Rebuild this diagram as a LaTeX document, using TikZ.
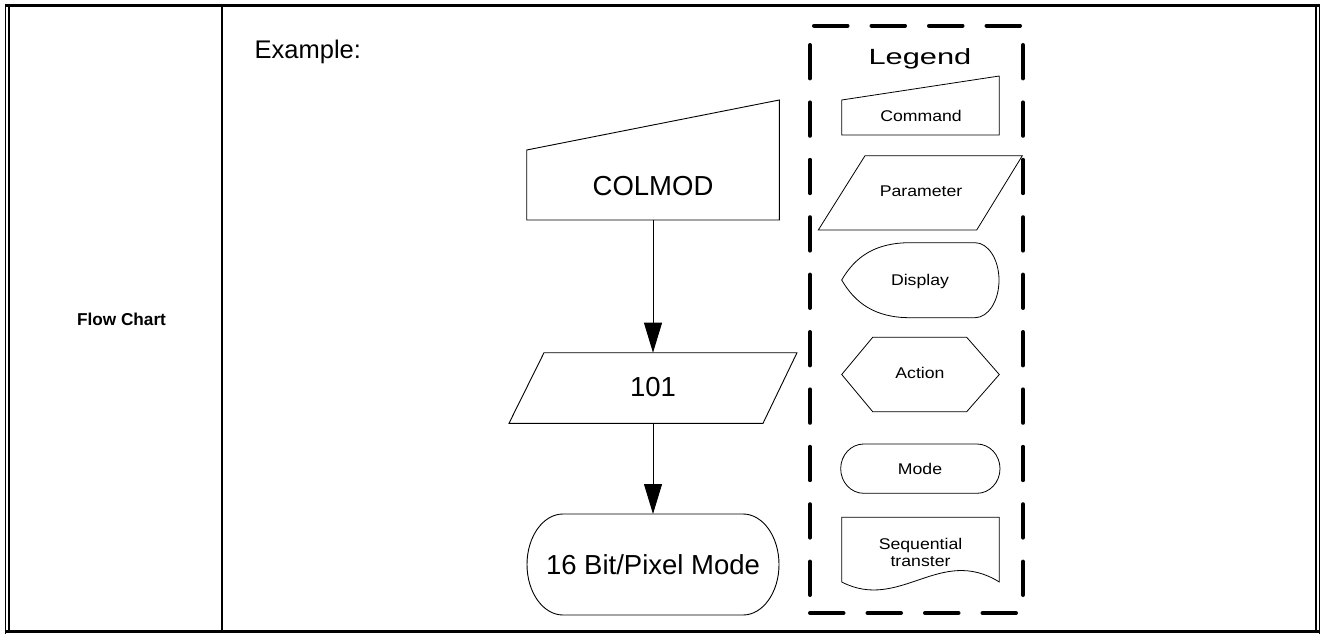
\documentclass[tikz,border=0pt]{standalone}
\usepackage{fontspec}
\setmainfont{Liberation Sans}
\newfontfamily\legendfont[FakeStretch=1.14]{Liberation Sans}
\newfontfamily\legendtitlefont[FakeStretch=1.4]{Liberation Sans}
\usetikzlibrary{arrows.meta}
\begin{document}
\begin{tikzpicture}[x=1pt,y=-1pt,
  shp/.style={draw,line width=0.9pt,line join=miter},
  lshp/.style={draw,line width=0.8pt,line join=miter},
  conn/.style={draw,line width=0.9pt,-{Triangle[length=30pt,width=18pt]}},
  maintext/.style={anchor=base,inner sep=0pt,font=\fontsize{27.5}{32}\selectfont},
  legtext/.style={anchor=base,inner sep=0pt,align=center,font=\legendfont\fontsize{15.5}{17.7}\selectfont},
  legdash/.style={line width=4pt,line cap=round,dash pattern=on 33.4pt off 24pt},
  legdashh/.style={line width=4pt,line cap=round,dash pattern=on 33.5pt off 24pt}]
\useasboundingbox (0,0) rectangle (1322,634);
% table frame
\draw[line width=3pt] (4.8,5.5) -- (1320.3,5.5);
\draw[line width=3pt] (4.8,631.5) -- (1320.3,631.5);
\draw[line width=1.3pt] (5.6,4) -- (5.6,633.5);
\draw[line width=2pt] (9,4) -- (9,633);
\draw[line width=2pt] (1316,4) -- (1316,633);
\draw[line width=1.3pt] (1319.6,4) -- (1319.6,633.5);
\draw[line width=1.8pt] (222,4) -- (222,633);
% left cell
\node[anchor=base,inner sep=0pt,font=\bfseries\fontsize{17.2}{20}\selectfont] (fc) at (121.5,325) {Flow Chart};
\node[anchor=base west,inner sep=0pt,font=\fontsize{25.5}{30}\selectfont] (ex) at (254.5,58.3) {Example:};
% main flow
\draw[shp] (526.7,150) -- (779.3,100) -- (779.3,220) -- (526.7,220) -- cycle;
\node[maintext] (colmod) at (653,195) {COLMOD};
\coordinate (colmodB) at (653,220);
\draw[shp] (544,352.7) -- (797,352.7) -- (763,423.3) -- (509,423.3) -- cycle;
\node[maintext] (p101) at (653,396.7) {101};
\coordinate (paramT) at (653,352.7);
\coordinate (paramB) at (653,423.3);
\draw[shp] (563,514) -- (743,514) arc[start angle=-90,end angle=90,x radius=36,y radius=50.5]
  -- (563,615) arc[start angle=90,end angle=270,x radius=36,y radius=50.5] -- cycle;
\node[maintext] (mode16) at (653,574) {16 Bit/Pixel Mode};
\coordinate (modeT) at (653,514);
\draw[conn] (colmodB) -- (paramT);
\draw[conn] (paramB) -- (modeT);
% legend frame
\draw[legdash] (810,45) -- (810,595);
\draw[legdash] (1023,45) -- (1023,595);
\draw[legdashh] (814,25.7) -- (1020,25.7);
\draw[legdashh] (810,613) -- (1016,613);
\node[anchor=base,inner sep=0pt,font=\legendtitlefont\fontsize{22}{26}\selectfont] (legend) at (920,64) {Legend};
% legend shapes
\draw[lshp] (841.7,100) -- (999.3,76) -- (999.3,135) -- (841.7,135) -- cycle;
\node[legtext] (lcmd) at (921,121.7) {Command};
\draw[lshp] (865,155.7) -- (1022.3,155.7) -- (976.7,230) -- (818.3,230) -- cycle;
\node[legtext] (lpar) at (921,196.7) {Parameter};
\draw[lshp] (841.7,280) .. controls (855,257) and (875,242.7) .. (910,242.7) -- (975,242.7)
  arc[start angle=-90,end angle=90,x radius=24,y radius=37.5]
  -- (910,317.7) .. controls (875,317.7) and (855,303) .. (841.7,280) -- cycle;
\node[legtext] (ldis) at (920,285) {Display};
\draw[lshp] (841.7,374.5) -- (872.7,337.3) -- (966.7,337.3) -- (999.3,374.5) -- (966.7,411.7) -- (872.7,411.7) -- cycle;
\node[legtext] (lact) at (920,378) {Action};
\draw[lshp] (863.7,444) -- (977,444) arc[start angle=-90,end angle=90,x radius=23,y radius=24.65]
  -- (863.7,493.3) arc[start angle=90,end angle=270,x radius=23,y radius=24.65] -- cycle;
\node[legtext] (lmode) at (920,474) {Mode};
\draw[lshp] (841.7,582) -- (841.7,517.3) -- (999.3,517.3) -- (999.3,582)
  .. controls (940,545) and (900,612) .. (841.7,582) -- cycle;
\node[legtext] (lseq) at (920.5,566.7) {Sequential\\transter};
\end{tikzpicture}
\end{document}
